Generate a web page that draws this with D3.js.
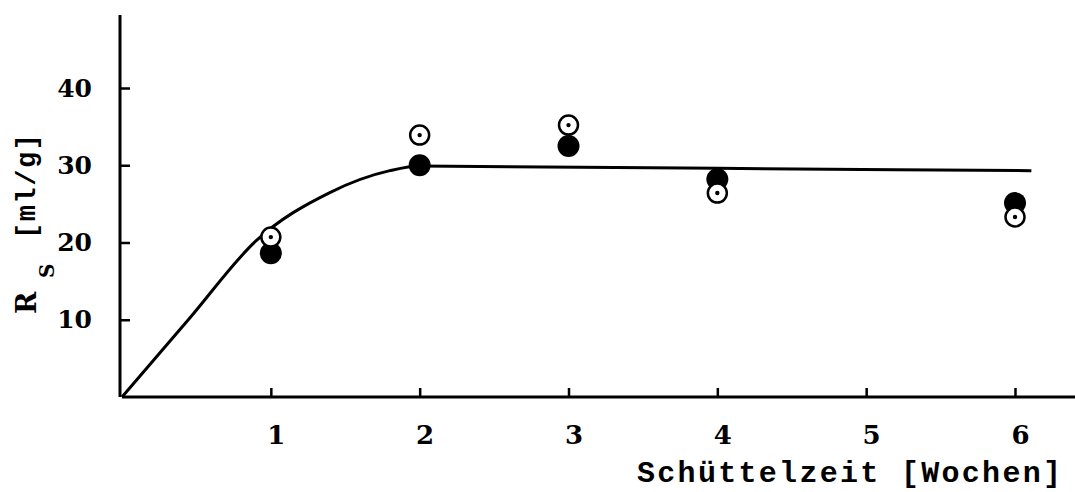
<!DOCTYPE html>
<html>
<head>
<meta charset="utf-8">
<script src="https://cdn.jsdelivr.net/npm/d3@7/dist/d3.min.js"></script>
<style>
  body { margin: 0; background: #fff; }
  svg { display: block; }
  .tick text { font-family: "DejaVu Serif", serif; font-weight: bold; }
</style>
</head>
<body>
<svg width="1075" height="492"></svg>
<script>
// shaking time in weeks, R_S in ml/g
var weeks = [1, 2, 3, 4, 6];
var filled = [18.6, 30.0, 32.5, 28.2, 25.1];
var open = [20.7, 33.9, 35.2, 26.4, 23.3];

// fitted curve
var curveX = [0, 0.45, 0.9, 1.4, 1.8, 2.0, 4.0, 6.11];
var curveY = [0, 10.1, 20.2, 26.5, 29.3, 29.9, 29.6, 29.3];

var xTicks = [1, 2, 3, 4, 5, 6];
var yTicks = [10, 20, 30, 40];

var svg = d3.select("svg");

var x = d3.scaleLinear().domain([0, 6]).range([122, 1015]);
var y = d3.scaleLinear().domain([0, 40]).range([397, 88]);

// axes lines
svg.append("line")
  .attr("x1", x(0)).attr("x2", 1075)
  .attr("y1", y(0)).attr("y2", y(0))
  .attr("stroke", "#000").attr("stroke-width", 3);

svg.append("line")
  .attr("x1", x(0) - 2).attr("x2", x(0) - 2)
  .attr("y1", 15).attr("y2", y(0))
  .attr("stroke", "#000").attr("stroke-width", 3);

// x axis ticks point up, labels below
var gx = svg.append("g")
  .attr("transform", "translate(0," + y(0) + ")")
  .call(d3.axisBottom(x).tickValues(xTicks).tickFormat(d3.format("d"))
    .tickSizeInner(-9).tickSizeOuter(0).tickPadding(29));
gx.select(".domain").remove();
gx.selectAll(".tick line").attr("stroke-width", 2.5);
gx.selectAll(".tick text")
  .attr("font-size", 26)
  .attr("dx", 5)
  .attr("fill", "#000");

// y axis ticks point right
var gy = svg.append("g")
  .attr("transform", "translate(" + (x(0) - 2) + ",0)")
  .call(d3.axisLeft(y).tickValues(yTicks).tickSizeInner(-10).tickSizeOuter(0).tickPadding(28));
gy.select(".domain").remove();
gy.selectAll(".tick line").attr("stroke-width", 2.5);
gy.selectAll(".tick text")
  .attr("font-size", 25)
  .attr("fill", "#000");

// curve
var line = d3.line()
  .x(function(d) { return x(d[0]); })
  .y(function(d) { return y(d[1]); })
  .curve(d3.curveMonotoneX);

svg.append("path")
  .datum(d3.zip(curveX, curveY))
  .attr("d", line)
  .attr("fill", "none")
  .attr("stroke", "#000")
  .attr("stroke-width", 3);

// filled points
svg.selectAll("circle.filled")
  .data(d3.zip(weeks, filled))
  .enter()
  .append("circle")
  .attr("class", "filled")
  .attr("cx", function(d) { return x(d[0]); })
  .attr("cy", function(d) { return y(d[1]); })
  .attr("r", 11)
  .attr("fill", "#000");

// open points with centre dot
var og = svg.selectAll("g.open")
  .data(d3.zip(weeks, open))
  .enter()
  .append("g")
  .attr("class", "open")
  .attr("transform", function(d) { return "translate(" + x(d[0]) + "," + y(d[1]) + ")"; });

og.append("circle")
  .attr("r", 9.5)
  .attr("fill", "#fff")
  .attr("stroke", "#000")
  .attr("stroke-width", 2.5);

og.append("circle")
  .attr("r", 2.2)
  .attr("fill", "#000");

// x title
svg.append("text")
  .attr("x", 637)
  .attr("y", 482)
  .attr("font-family", "Liberation Mono, monospace")
  .attr("font-weight", "bold")
  .attr("font-size", 30)
  .attr("textLength", 424)
  .attr("lengthAdjust", "spacing")
  .text("Schüttelzeit [Wochen]");

// y title, built in pieces
svg.append("text")
  .attr("transform", "translate(36,314) rotate(-90)")
  .attr("font-family", "DejaVu Serif, serif")
  .attr("font-weight", "bold")
  .attr("font-size", 27)
  .text("R");

svg.append("text")
  .attr("transform", "translate(54,278) rotate(-90)")
  .attr("font-family", "DejaVu Serif, serif")
  .attr("font-weight", "bold")
  .attr("font-size", 20)
  .text("S");

svg.append("text")
  .attr("transform", "translate(35,239) rotate(-90)")
  .attr("font-family", "Liberation Mono, monospace")
  .attr("font-weight", "bold")
  .attr("font-size", 27)
  .attr("textLength", 105)
  .attr("lengthAdjust", "spacing")
  .text("[ml/g]");
</script>
</body>
</html>
